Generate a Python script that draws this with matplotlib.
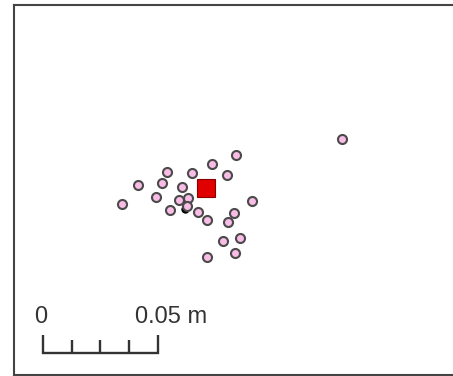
import numpy as np
import matplotlib
matplotlib.use("Agg")
import matplotlib.pyplot as plt

# point offsets from the centre point, metres
east = [0.0591, 0.0130, 0.0026, -0.0170, -0.0061, 0.0091, -0.0296, -0.0191,
        -0.0104, -0.0217, -0.0117, -0.0078, -0.0083, -0.0157, -0.0365, 0.0200,
        -0.0035, 0.0004, 0.0122, 0.0096, 0.0074, 0.0148, 0.0126, 0.0004]
north = [0.0213, 0.0143, 0.0105, 0.0070, 0.0065, 0.0057, 0.0013, 0.0022,
         0.0004, -0.0039, -0.0052, -0.0043, -0.0078, -0.0096, -0.0070, -0.0057,
         -0.0104, -0.0139, -0.0109, -0.0148, -0.0230, -0.0217, -0.0283, -0.0300]
hidden_e, hidden_n = [-0.0091], [-0.0092]
centre_e, centre_n = [0.0], [0.0]

scale_len = 0.05
scale_label = "0.05 m"

fig = plt.figure(figsize=(4.53, 3.76), dpi=100)
ax = fig.add_axes([14 / 453, 1 / 376, 446 / 453, 370 / 376])
ax.set_xlim(-0.0835, 0.1104)
ax.set_ylim(-0.0813, 0.0796)
ax.set_xticks([])
ax.set_yticks([])
for side in ["left", "top", "bottom"]:
    ax.spines[side].set_linewidth(1.5)
    ax.spines[side].set_color("#444444")
ax.spines["right"].set_visible(False)

ax.plot(hidden_e, hidden_n, "o", ms=5, color="black", zorder=2)
ax.plot(east, north, "o", ms=6.5, mfc="#f9bce6", mec="#4a4a4a", mew=1.5,
        linestyle="none", zorder=3)
ax.plot(centre_e, centre_n, "s", ms=13, mfc="#e00000", mec="#8a0000",
        mew=0.8, zorder=4)

## scale bar ##
x0, y0 = -0.0709, -0.0717
ax.plot([x0, x0, x0 + scale_len, x0 + scale_len],
        [y0 + 0.0078, y0, y0, y0 + 0.0078],
        color="#333333", lw=1.7, solid_joinstyle="miter", solid_capstyle="butt")
for frac in [0.25, 0.5, 0.75]:
    ax.plot([x0 + frac * scale_len] * 2, [y0, y0 + 0.0056],
            color="#333333", lw=1.7, solid_capstyle="butt")
ax.text(x0 - 0.0009, -0.0587, "0", ha="center", va="baseline",
        family="Liberation Sans", fontsize=17, color="#333333")
ax.text(x0 + scale_len - 0.0100, -0.0587, scale_label, ha="left", va="baseline",
        family="Liberation Sans", fontsize=17, color="#333333")

fig.savefig("out.png", dpi=100)
